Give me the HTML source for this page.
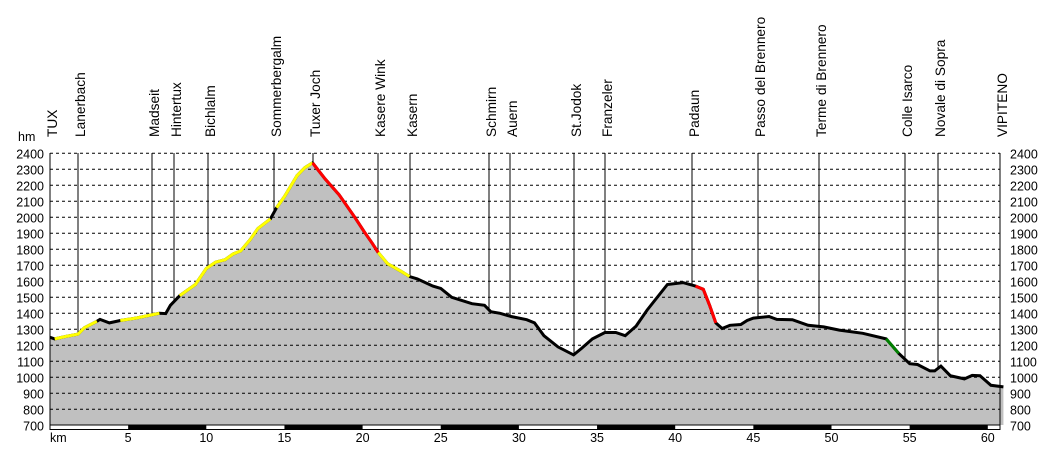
<!DOCTYPE html>
<html><head><meta charset="utf-8"><style>
body{margin:0;background:#fff}
svg{display:block;font-family:"Liberation Sans",Arial,sans-serif}
</style></head><body>
<svg id="s" width="1050" height="452" xmlns="http://www.w3.org/2000/svg"></svg>
<script>
const s=document.getElementById('s');
const X=k=>50+15.63*k, Y=h=>153.3+(2400-h)*0.16;
let o='';
const P=[[0,1250],[0.3,1240],[1,1255],[1.8,1270],[2.2,1310],[3,1350],[3.2,1362],[3.8,1340],[4.5,1355],[5.5,1370],[6.5,1390],[7,1400],[7.4,1398],[7.7,1450],[8.3,1510],[9.3,1580],[10,1680],[10.6,1720],[11.2,1735],[11.7,1770],[12.2,1790],[12.8,1860],[13.3,1930],[14.1,1990],[14.5,2060],[15,2130],[15.8,2260],[16.3,2310],[16.8,2340],[17.6,2240],[18.5,2140],[19.5,2000],[20.1,1910],[20.6,1840],[21,1780],[21.6,1710],[22.5,1660],[23,1630],[23.5,1615],[24.5,1570],[25,1555],[25.7,1500],[27,1460],[27.8,1450],[28.2,1410],[28.8,1400],[29.5,1380],[30.5,1360],[31,1340],[31.6,1260],[32.5,1190],[33.5,1140],[34,1180],[34.7,1240],[35.5,1280],[36.2,1280],[36.8,1260],[37.5,1320],[38.2,1420],[39.5,1580],[40.5,1592],[41.3,1570],[41.8,1550],[42.2,1450],[42.6,1340],[43,1305],[43.5,1325],[44.2,1330],[44.6,1355],[45,1370],[46,1380],[46.5,1362],[47.5,1360],[48.5,1325],[49.5,1315],[50.5,1295],[52,1275],[53.5,1240],[54.3,1150],[55,1085],[55.5,1080],[56.3,1040],[56.6,1040],[57,1070],[57.6,1010],[58.5,990],[59,1012],[59.5,1010],[60.2,950],[61,940]];
const pts=a=>a.map(p=>X(p[0]).toFixed(1)+','+Y(p[1]).toFixed(1)).join(' ');
o+=`<polygon points="${X(0)},425 ${pts(P)} ${X(61)},425" fill="#c0c0c0"/>`;
for(let h=700;h<=2400;h+=100){const y=Y(h);
 if(h>700)o+=`<line x1="50" x2="1000" y1="${y}" y2="${y}" stroke="#000" stroke-dasharray="3,3" stroke-width="1"/>`;
 o+=`<text x="44" y="${y+5}" font-size="12.5" text-anchor="end">${h}</text><text x="1010" y="${y+5}" font-size="12.5">${h}</text>`;}
o+=`<line x1="50" x2="50" y1="153" y2="425" stroke="#000"/><line x1="1000" x2="1000" y1="153" y2="425" stroke="#000"/>`;
const M=[[50,'TUX'],[78,'Lanerbach'],[152,'Madseit'],[174,'Hintertux'],[208,'Bichlalm'],[274,'Sommerbergalm'],[313,'Tuxer Joch'],[378,'Kasere Wink'],[410,'Kasern'],[489,'Schmirn'],[510,'Auern'],[574,'St.Jodok'],[605,'Franzeler'],[692,'Padaun'],[758,'Passo del Brennero'],[819,'Terme di Brennero'],[905,'Colle Isarco'],[938,'Novale di Sopra'],[1000,'VIPITENO']];
function hAt(x){const k=(x-50)/15.63;for(let i=1;i<P.length;i++)if(P[i][0]>=k){const a=P[i-1],b=P[i];return a[1]+(b[1]-a[1])*(k-a[0])/(b[0]-a[0]);}return 940;}
M.forEach(([x,t])=>{o+=`<line x1="${x}" x2="${x}" y1="153" y2="${Y(hAt(x))}" stroke="#000"/>`;
 o+=`<text transform="translate(${x+7},137) rotate(-90)" font-size="13.7">${t}</text>`;});
o+=`<polyline points="${pts(P)}" fill="none" stroke="#000" stroke-width="3"/>`;
const seg=(a,b,c)=>{const q=P.filter(p=>p[0]>=a&&p[0]<=b);o+=`<polyline points="${pts(q)}" fill="none" stroke="${c}" stroke-width="3"/>`;};
seg(0.3,3,'#ffff00');seg(4.5,7,'#ffff00');seg(8.3,14.1,'#ffff00');seg(14.5,16.8,'#ffff00');
seg(16.8,21,'#ff0000');seg(21,23,'#ffff00');seg(41.3,42.6,'#ff0000');seg(53.5,54.3,'#008000');
o+=`<rect x="50" y="425" width="950" height="4.5" fill="#fff" stroke="#000" stroke-width="1"/>`;
for(let k=5;k<60;k+=10)o+=`<rect x="${X(k)}" y="425" width="${15.63*5}" height="4.5" fill="#000"/>`;
o+=`<text x="50" y="442" font-size="12.5">km</text>`;
for(let k=5;k<=60;k+=5)o+=`<text x="${X(k)}" y="442" font-size="12.5" text-anchor="middle">${k}</text>`;
o+=`<text x="18" y="141" font-size="12.5">hm</text>`;
s.innerHTML=o;
</script>
</body></html>
